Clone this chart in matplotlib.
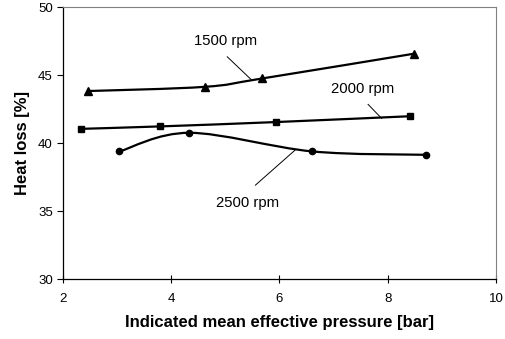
import numpy as np
import matplotlib
matplotlib.use('Agg')
import matplotlib.pyplot as plt
from matplotlib.path import Path
from matplotlib.patches import PathPatch

plt.rcParams['font.family'] = ['Liberation Sans', 'DejaVu Sans']

# ================= data =================
imep_1500 = [2.46, 4.62, 5.69, 8.49]
loss_1500 = [43.85, 44.16, 44.78, 46.6]

imep_2000 = [2.34, 3.80, 5.94, 8.42]
loss_2000 = [41.07, 41.25, 41.57, 42.0]

imep_2500 = [3.05, 4.34, 6.61, 8.71]
loss_2500 = [39.41, 40.78, 39.41, 39.16]

series = [
    ('1500 rpm', imep_1500, loss_1500, '^', 5.5),
    ('2000 rpm', imep_2000, loss_2000, 's', 4.5),
    ('2500 rpm', imep_2500, loss_2500, 'o', 4.5),
]

# label text position, leader start, leader end (data units)
labels = {
    '1500 rpm': ((5.0, 47.5), (5.04, 46.37), (5.48, 44.7)),
    '2000 rpm': ((7.54, 44.0), (7.64, 42.87), (7.89, 41.84)),
    '2500 rpm': ((5.41, 35.6), (5.56, 36.93), (6.29, 39.5)),
}


def smooth_path(xs, ys, k=1 / 6):
    """Bezier path through the points, like Excel's smoothed line"""
    pts = np.column_stack([xs, ys])
    n = len(pts)
    verts = [pts[0]]
    codes = [Path.MOVETO]
    for i in range(n - 1):
        p0 = pts[max(i - 1, 0)]
        p1 = pts[i]
        p2 = pts[i + 1]
        p3 = pts[min(i + 2, n - 1)]
        c1 = p1 + (p2 - p0) * k
        c2 = p2 - (p3 - p1) * k
        verts += [c1, c2, p2]
        codes += [Path.CURVE4] * 3
    return Path(verts, codes)


fig = plt.figure(figsize=(5.05, 3.39), dpi=100)
ax = fig.add_axes([0.124, 0.176, 0.858, 0.802])

for name, xs, ys, mk, ms in series:
    ax.add_patch(PathPatch(smooth_path(xs, ys), fill=False, edgecolor='black', lw=1.6, zorder=3))
    ax.plot(xs, ys, linestyle='none', marker=mk, color='black', markersize=ms, zorder=4)
    (tx, ty), (sx, sy), (ex, ey) = labels[name]
    ax.text(tx, ty, name, ha='center', va='center', fontsize=10.7)
    ax.plot([sx, ex], [sy, ey], color='black', lw=0.7, zorder=2)

ax.set_xlim(2, 10)
ax.set_ylim(30, 50)
ax.set_xticks([2, 4, 6, 8, 10])
ax.set_yticks([30, 35, 40, 45, 50])
ax.tick_params(axis='y', direction='out', length=4, width=0.8, labelsize=9.5, pad=3)
ax.tick_params(axis='x', direction='inout', length=6, width=0.8, labelsize=9.5, pad=7)

for s in ['top', 'right']:
    ax.spines[s].set_color('#808080')
    ax.spines[s].set_linewidth(0.8)
for s in ['left', 'bottom']:
    ax.spines[s].set_color('black')
    ax.spines[s].set_linewidth(0.9)

ax.set_xlabel('Indicated mean effective pressure [bar]', fontsize=12, fontweight='bold', labelpad=7)
ax.set_ylabel('Heat loss [%]', fontsize=12, fontweight='bold', labelpad=6)

fig.savefig('out.png', dpi=100)
